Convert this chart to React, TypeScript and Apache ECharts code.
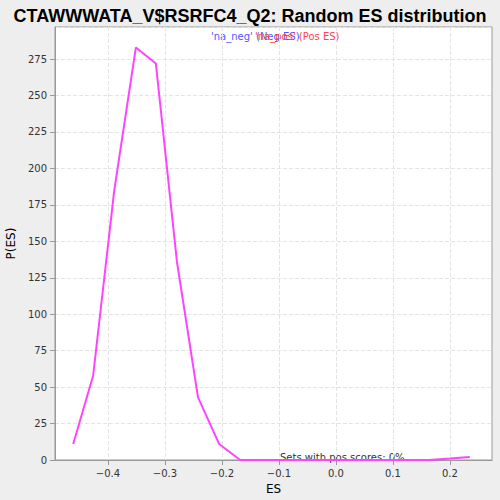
import { useEffect, useRef } from 'react';
import * as echarts from 'echarts';

const esValues = [-0.461, -0.426, -0.389, -0.351, -0.316, -0.279, -0.242, -0.205, -0.168, -0.131, -0.094, 0.1, 0.163, 0.2, 0.235];
const probValues = [11, 58, 185, 283, 272, 136, 43, 11, 0, 0, 0, 0, 0, 1, 2];

const App = () => {
  const chartRef = useRef<HTMLDivElement>(null);

  useEffect(() => {
    if (!chartRef.current) return;
    const chart = echarts.init(chartRef.current, null, { renderer: 'svg' });
    chart.setOption({
      animation: false,
      backgroundColor: '#eeeeee',
      title: {
        text: 'CTAWWWATA_V$RSRFC4_Q2: Random ES distribution',
        left: 'center',
        top: 2,
        textStyle: { fontSize: 18, fontWeight: 'bold', color: '#000', fontFamily: 'Liberation Sans' },
      },
      graphic: [
        { type: 'text', left: 211, top: 31, style: { text: "'na_neg' (Neg ES)", fill: '#5555ff', fontSize: 10, fontFamily: 'DejaVu Sans' } },
        { type: 'text', left: 255, top: 31, style: { text: "'na_pos' (Pos ES)", fill: '#ff4444', fontSize: 10, fontFamily: 'DejaVu Sans' } },
        { type: 'text', left: 280, top: 452, style: { text: 'Sets with pos scores: 0%', fill: '#333', fontSize: 10, fontFamily: 'DejaVu Sans' } },
      ],
      grid: { left: 55, right: 8, top: 27, bottom: 40, outerBoundsMode: 'none', show: true, backgroundColor: '#fff', borderColor: '#999', borderWidth: 1 },
      xAxis: {
        type: 'value',
        min: -0.493,
        max: 0.274,
        name: 'ES',
        nameLocation: 'middle',
        nameGap: 22,
        nameTextStyle: { fontSize: 12, color: '#000', fontFamily: 'DejaVu Sans' },
        axisLine: { onZero: false, lineStyle: { color: '#999' } },
        axisTick: { show: true, customValues: [-0.4, -0.3, -0.2, -0.1, 0, 0.1, 0.2], lineStyle: { color: '#999' } },
        axisLabel: {
          fontSize: 10, color: '#333', fontFamily: 'DejaVu Sans',
          customValues: [-0.4, -0.3, -0.2, -0.1, 0, 0.1, 0.2],
          formatter: (v: number) => (Math.abs(v) < 1e-9 ? '0.0' : v.toFixed(1).replace('-', '\u2212')),
        },
        splitLine: { show: true, lineStyle: { color: '#e4e4e4', type: 'dashed' } },
      },
      yAxis: {
        type: 'value',
        min: 0,
        max: 297,
        interval: 25,
        name: 'P(ES)',
        nameLocation: 'middle',
        nameGap: 32,
        nameTextStyle: { fontSize: 12, color: '#000', fontFamily: 'DejaVu Sans' },
        axisLine: { show: true, onZero: false, lineStyle: { color: '#999' } },
        axisTick: { show: true, lineStyle: { color: '#999' } },
        axisLabel: { fontSize: 10, color: '#333', fontFamily: 'DejaVu Sans', showMaxLabel: false },
        splitLine: { show: true, lineStyle: { color: '#e4e4e4', type: 'dashed' } },
      },
      series: [
        {
          type: 'line',
          data: esValues.map((x, i) => [x, probValues[i]]),
          symbol: 'none',
          lineStyle: { color: '#ff44ff', width: 2 },
        },
      ],
    });
    return () => chart.dispose();
  }, []);

  return <div ref={chartRef} style={{ width: 500, height: 500, position: 'absolute', left: 0, top: 0 }} />;
};

export default App;
